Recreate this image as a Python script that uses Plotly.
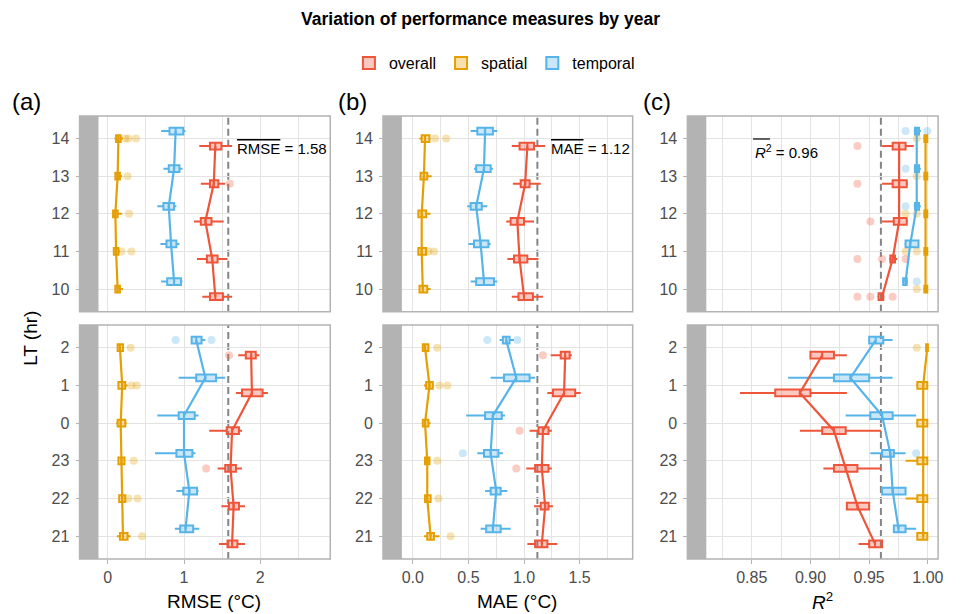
import plotly.graph_objects as go

# ---------------- data ----------------
LT_UPPER = [10, 11, 12, 13, 14]          # bottom -> top, upper facet
LT_LOWER = [21, 22, 23, 0, 1, 2]         # bottom -> top, lower facet
GROUPS = ["overall", "spatial", "temporal"]
METRIC_TITLES = ["RMSE (°C)", "MAE (°C)", "<i>R</i><sup>2</sup>"]
METRIC_MEANS = [1.58, 1.12, 0.96]
MEAN_LABELS = [
    '<span style="text-decoration:overline">RMSE</span> = 1.58',
    '<span style="text-decoration:overline">MAE</span> = 1.12',
    '<i>R</i><sup>2</sup> = 0.96',
]
PANEL_TAGS = ["(a)", "(b)", "(c)"]

# rows: (LT, lower whisker, q1, median, q3, upper whisker)
RMSE_OVERALL = [
    (14, 1.20, 1.34, 1.41, 1.49, 1.63), (13, 1.22, 1.34, 1.39, 1.45, 1.54),
    (12, 1.13, 1.22, 1.28, 1.36, 1.52), (11, 1.17, 1.30, 1.37, 1.44, 1.57),
    (10, 1.24, 1.34, 1.41, 1.51, 1.63),
    (2, 1.71, 1.81, 1.88, 1.94, 1.99), (1, 1.68, 1.76, 1.89, 2.03, 2.10),
    (0, 1.33, 1.56, 1.63, 1.72, 1.76), (23, 1.44, 1.54, 1.61, 1.68, 1.76),
    (22, 1.49, 1.59, 1.65, 1.72, 1.80), (21, 1.46, 1.57, 1.63, 1.70, 1.80),
]
RMSE_SPATIAL = [
    (14, 0.09, 0.11, 0.14, 0.17, 0.20), (13, 0.09, 0.10, 0.13, 0.16, 0.19),
    (12, 0.06, 0.07, 0.10, 0.13, 0.19), (11, 0.07, 0.08, 0.11, 0.14, 0.16),
    (10, 0.09, 0.10, 0.13, 0.16, 0.20),
    (2, 0.12, 0.13, 0.16, 0.20, 0.20), (1, 0.13, 0.14, 0.19, 0.23, 0.26),
    (0, 0.11, 0.13, 0.17, 0.23, 0.25), (23, 0.14, 0.14, 0.18, 0.22, 0.23),
    (22, 0.14, 0.15, 0.19, 0.23, 0.24), (21, 0.12, 0.16, 0.20, 0.26, 0.30),
]
RMSE_TEMPORAL = [
    (14, 0.70, 0.81, 0.89, 0.99, 1.02), (13, 0.73, 0.80, 0.87, 0.94, 0.98),
    (12, 0.65, 0.73, 0.80, 0.87, 0.90), (11, 0.69, 0.77, 0.83, 0.90, 0.94),
    (10, 0.70, 0.78, 0.87, 0.96, 0.98),
    (2, 1.09, 1.10, 1.16, 1.23, 1.28), (1, 0.93, 1.16, 1.28, 1.42, 1.54),
    (0, 0.65, 0.93, 1.00, 1.14, 1.19), (23, 0.62, 0.90, 1.00, 1.11, 1.15),
    (22, 0.90, 0.99, 1.07, 1.17, 1.19), (21, 0.88, 0.95, 1.02, 1.12, 1.20),
]
RMSE_OVERALL_OUT = [(13, 1.60), (2, 1.59), (23, 1.29)]
RMSE_SPATIAL_OUT = [(14, 0.23), (14, 0.27), (14, 0.37), (13, 0.26), (12, 0.28),
                    (11, 0.18), (11, 0.31), (2, 0.30), (1, 0.31), (1, 0.38),
                    (23, 0.34), (22, 0.27), (22, 0.39), (21, 0.45)]
RMSE_TEMPORAL_OUT = [(2, 0.89), (2, 1.36)]

MAE_OVERALL = [
    (14, 0.89, 0.96, 1.03, 1.09, 1.19), (13, 0.90, 0.97, 1.01, 1.05, 1.15),
    (12, 0.84, 0.88, 0.94, 1.00, 1.09), (11, 0.85, 0.91, 0.96, 1.03, 1.13),
    (10, 0.89, 0.95, 1.00, 1.08, 1.17),
    (2, 1.24, 1.33, 1.37, 1.41, 1.43), (1, 1.21, 1.26, 1.36, 1.46, 1.51),
    (0, 1.05, 1.13, 1.17, 1.22, 1.25), (23, 1.02, 1.10, 1.16, 1.22, 1.25),
    (22, 1.09, 1.15, 1.19, 1.22, 1.26), (21, 1.03, 1.10, 1.16, 1.21, 1.30),
]
MAE_SPATIAL = [
    (14, 0.06, 0.08, 0.11, 0.15, 0.16), (13, 0.06, 0.07, 0.10, 0.13, 0.17),
    (12, 0.04, 0.05, 0.08, 0.12, 0.16), (11, 0.05, 0.05, 0.08, 0.12, 0.13),
    (10, 0.06, 0.06, 0.09, 0.13, 0.16),
    (2, 0.08, 0.09, 0.11, 0.14, 0.15), (1, 0.10, 0.12, 0.15, 0.18, 0.19),
    (0, 0.08, 0.09, 0.11, 0.14, 0.16), (23, 0.11, 0.11, 0.13, 0.15, 0.16),
    (22, 0.11, 0.11, 0.13, 0.16, 0.17), (21, 0.10, 0.13, 0.16, 0.19, 0.24),
]
MAE_TEMPORAL = [
    (14, 0.52, 0.58, 0.65, 0.72, 0.76), (13, 0.55, 0.57, 0.64, 0.70, 0.72),
    (12, 0.49, 0.52, 0.57, 0.62, 0.67), (11, 0.50, 0.55, 0.61, 0.68, 0.70),
    (10, 0.52, 0.57, 0.64, 0.73, 0.76),
    (2, 0.78, 0.81, 0.84, 0.87, 0.91), (1, 0.70, 0.82, 0.93, 1.05, 1.10),
    (0, 0.48, 0.65, 0.72, 0.80, 0.83), (23, 0.58, 0.64, 0.70, 0.77, 0.81),
    (22, 0.65, 0.70, 0.75, 0.79, 0.85), (21, 0.61, 0.66, 0.72, 0.79, 0.88),
]
MAE_OVERALL_OUT = [(2, 1.17), (0, 0.96), (23, 0.93)]
MAE_SPATIAL_OUT = [(14, 0.20), (14, 0.30), (11, 0.14), (11, 0.19), (2, 0.22),
                   (1, 0.24), (1, 0.31), (23, 0.22), (22, 0.23), (21, 0.34)]
MAE_TEMPORAL_OUT = [(2, 0.67), (2, 0.94), (23, 0.45)]

R2_OVERALL = [
    (14, 0.961, 0.970, 0.9755, 0.981, 0.988), (13, 0.961, 0.970, 0.9755, 0.982, 0.983),
    (12, 0.961, 0.971, 0.9755, 0.982, 0.983), (11, 0.967, 0.968, 0.970, 0.972, 0.974),
    (10, 0.957, 0.958, 0.961, 0.962, 0.963),
    (2, 0.900, 0.900, 0.910, 0.920, 0.931), (1, 0.840, 0.870, 0.891, 0.900, 0.931),
    (0, 0.891, 0.910, 0.920, 0.930, 0.960), (23, 0.911, 0.920, 0.930, 0.940, 0.960),
    (22, 0.931, 0.931, 0.940, 0.950, 0.950), (21, 0.941, 0.950, 0.955, 0.961, 0.961),
]
R2_SPATIAL = [
    (14, 0.996, 0.997, 0.998, 0.9995, 1.000), (13, 0.996, 0.997, 0.998, 0.9995, 1.000),
    (12, 0.996, 0.997, 0.998, 0.9995, 1.000), (11, 0.996, 0.997, 0.998, 0.9995, 1.000),
    (10, 0.996, 0.997, 0.998, 0.9995, 1.000),
    (2, 0.998, 0.9985, 0.9995, 1.000, 1.000), (1, 0.990, 0.991, 0.996, 0.9995, 1.000),
    (0, 0.990, 0.991, 0.996, 0.9995, 1.000), (23, 0.981, 0.991, 0.996, 0.9995, 1.000),
    (22, 0.981, 0.991, 0.996, 0.9995, 1.000), (21, 0.990, 0.991, 0.996, 0.9995, 1.000),
]
R2_TEMPORAL = [
    (14, 0.988, 0.989, 0.9905, 0.9925, 0.994), (13, 0.988, 0.989, 0.9905, 0.9925, 0.994),
    (12, 0.988, 0.989, 0.9905, 0.9925, 0.994), (11, 0.980, 0.981, 0.985, 0.992, 0.9925),
    (10, 0.978, 0.979, 0.981, 0.982, 0.983),
    (2, 0.950, 0.950, 0.9556, 0.962, 0.970), (1, 0.881, 0.920, 0.934, 0.950, 0.970),
    (0, 0.930, 0.951, 0.961, 0.970, 0.990), (23, 0.951, 0.961, 0.968, 0.971, 0.981),
    (22, 0.961, 0.961, 0.970, 0.981, 0.981), (21, 0.971, 0.971, 0.975, 0.981, 0.990),
]
R2_OVERALL_OUT = [(14, 0.940), (13, 0.940), (12, 0.951), (11, 0.940), (11, 0.961),
                  (11, 0.981), (10, 0.940), (10, 0.951), (10, 0.970)]
R2_SPATIAL_OUT = [(14, 0.9905), (13, 0.9905), (12, 0.981), (12, 0.9905), (11, 0.981),
                  (11, 0.9905), (10, 0.9905), (2, 0.9905)]
R2_TEMPORAL_OUT = [(14, 0.981), (14, 0.9995), (13, 0.981), (12, 0.981), (10, 0.9905),
                   (23, 0.990)]

# ---------------- styling / layout ----------------
COLORS = {"overall": "#EE553A", "spatial": "#E69F00", "temporal": "#56B4E9"}
FILLS = {"overall": "rgba(238,85,58,0.32)", "spatial": "rgba(230,159,0,0.32)",
         "temporal": "rgba(86,180,233,0.32)"}
DODGE = {"overall": -0.2, "spatial": 0.0, "temporal": 0.2}
FONT = "Liberation Sans, Arial, Helvetica, sans-serif"

TABLES = [
    {"overall": (RMSE_OVERALL, RMSE_OVERALL_OUT), "spatial": (RMSE_SPATIAL, RMSE_SPATIAL_OUT),
     "temporal": (RMSE_TEMPORAL, RMSE_TEMPORAL_OUT)},
    {"overall": (MAE_OVERALL, MAE_OVERALL_OUT), "spatial": (MAE_SPATIAL, MAE_SPATIAL_OUT),
     "temporal": (MAE_TEMPORAL, MAE_TEMPORAL_OUT)},
    {"overall": (R2_OVERALL, R2_OVERALL_OUT), "spatial": (R2_SPATIAL, R2_SPATIAL_OUT),
     "temporal": (R2_TEMPORAL, R2_TEMPORAL_OUT)},
]

W, H = 961, 614
PANEL_PX = [(99, 332), (404, 636), (710, 943)]     # panel left/right in px
STRIP_PX = 19
FACET_PX = [(116, 311.7), (325, 559)]              # upper, lower (top, bottom) in px
X_RANGES = [(-0.121, 2.917), (-0.098, 1.977), (0.8113, 1.0087)]
X_DTICK = [1, 0.5, 0.05]
X_MINOR = [0.5, 0.25, 0.025]
X_FMT = ["d", ".1f", ".2f"]
FACET_LTS = [LT_UPPER, LT_LOWER]

GRID = "#E3E3E3"
BORDER = "#B3B3B3"
TICKFONT = dict(family=FONT, size=16, color="#4D4D4D")

fig = go.Figure()
layout = dict(shapes=[], annotations=[])


def px_x(v):
    return v / W


def px_y(v):
    return 1 - v / H


for p in range(3):
    for f in range(2):
        idx = p * 2 + f + 1
        xa = "x" if idx == 1 else f"x{idx}"
        ya = "y" if idx == 1 else f"y{idx}"
        lts = FACET_LTS[f]
        x0p, x1p = PANEL_PX[p]
        top, bot = FACET_PX[f]
        layout[f"xaxis{idx}"] = dict(
            domain=[px_x(x0p), px_x(x1p)], range=list(X_RANGES[p]), anchor=ya,
            dtick=X_DTICK[p], tick0=0, tickformat=X_FMT[p],
            showgrid=True, gridcolor=GRID, gridwidth=1.3, zeroline=False, showline=False,
            minor=dict(dtick=X_MINOR[p], tick0=0, showgrid=True, gridcolor=GRID, gridwidth=1.1),
            ticks="outside" if f == 1 else "", ticklen=4, tickcolor=BORDER, tickwidth=1.2,
            showticklabels=(f == 1), tickfont=TICKFONT,
        )
        layout[f"yaxis{idx}"] = dict(
            domain=[px_y(bot), px_y(top)], range=[-0.6, len(lts) - 0.4],
            anchor="free", position=px_x(x0p - STRIP_PX),
            tickmode="array", tickvals=list(range(len(lts))), ticktext=[str(v) for v in lts],
            showgrid=True, gridcolor=GRID, gridwidth=1.3, zeroline=False, showline=False,
            ticks="outside", ticklen=4, tickcolor=BORDER, tickwidth=1.2,
            ticklabelstandoff=3, tickfont=TICKFONT,
        )
        # strip and panel border
        layout["shapes"].append(dict(type="rect", xref="paper", yref="paper",
                                     x0=px_x(x0p - STRIP_PX), x1=px_x(x0p),
                                     y0=px_y(bot), y1=px_y(top),
                                     fillcolor="#B3B3B3", line=dict(width=0), layer="above"))
        layout["shapes"].append(dict(type="rect", xref="paper", yref="paper",
                                     x0=px_x(x0p - STRIP_PX), x1=px_x(x1p),
                                     y0=px_y(bot), y1=px_y(top),
                                     fillcolor="rgba(0,0,0,0)", line=dict(width=1.5, color=BORDER),
                                     layer="above"))
        # mean line
        layout["shapes"].append(dict(type="line", xref=xa, yref=f"{ya} domain",
                                     x0=METRIC_MEANS[p], x1=METRIC_MEANS[p], y0=0, y1=1,
                                     line=dict(color="#858585", width=2, dash="7px,4px"),
                                     layer="below"))

        for g in GROUPS:
            rows, outs = TABLES[p][g]
            rows = [r for r in rows if r[0] in lts]
            rows.sort(key=lambda r: lts.index(r[0]))
            pos = [lts.index(r[0]) + DODGE[g] for r in rows]
            fig.add_trace(go.Box(
                orientation="h", y=pos,
                lowerfence=[r[1] for r in rows], q1=[r[2] for r in rows],
                median=[r[3] for r in rows], q3=[r[4] for r in rows],
                upperfence=[r[5] for r in rows],
                width=0.18, whiskerwidth=0, boxpoints=False,
                line=dict(color=COLORS[g], width=2), fillcolor=FILLS[g],
                name=g, legendgroup=g, showlegend=(idx == 1),
                xaxis=xa, yaxis=ya, hoverinfo="skip",
            ))
            fig.add_trace(go.Scatter(
                x=[r[3] for r in rows], y=pos, mode="lines",
                line=dict(color=COLORS[g], width=2.2), showlegend=False,
                legendgroup=g, xaxis=xa, yaxis=ya, hoverinfo="skip",
            ))
            o = [t for t in outs if t[0] in lts]
            if o:
                fig.add_trace(go.Scatter(
                    x=[t[1] for t in o], y=[lts.index(t[0]) + DODGE[g] for t in o],
                    mode="markers", marker=dict(color=COLORS[g], size=8, opacity=0.3),
                    showlegend=False, legendgroup=g, xaxis=xa, yaxis=ya, hoverinfo="skip",
                ))

    # x title, panel tag, mean label
    x0p, x1p = PANEL_PX[p]
    layout["annotations"].append(dict(text=METRIC_TITLES[p], xref="paper", yref="paper",
                                      x=px_x((x0p + x1p) / 2), y=px_y(601), showarrow=False,
                                      xanchor="center", yanchor="middle",
                                      font=dict(family=FONT, size=19, color="#000")))
    layout["annotations"].append(dict(text=PANEL_TAGS[p], xref="paper", yref="paper",
                                      x=px_x([10, 338, 644][p]), y=px_y(102), showarrow=False,
                                      xanchor="left", yanchor="middle",
                                      font=dict(family=FONT, size=24, color="#000")))
    layout["annotations"].append(dict(text=MEAN_LABELS[p], xref="paper", yref="paper",
                                      x=px_x([236, 552, 757][p]), y=px_y([148, 148, 151][p]),
                                      showarrow=False, xanchor="left", yanchor="middle",
                                      font=dict(family=FONT, size=15, color="#000")))

# overline above the R^2 symbol of the mean label (c)
layout["shapes"].append(dict(type="line", xref="paper", yref="paper",
                             x0=px_x(757), x1=px_x(774), y0=px_y(139), y1=px_y(139),
                             line=dict(color="#000", width=1.2), layer="above"))

layout["annotations"].append(dict(text="LT (hr)", xref="paper", yref="paper",
                                  x=px_x(30), y=px_y(338), showarrow=False, textangle=-90,
                                  xanchor="center", yanchor="middle",
                                  font=dict(family=FONT, size=19, color="#000")))

fig.update_layout(
    **layout,
    width=W, height=H, margin=dict(l=0, r=0, t=0, b=0),
    paper_bgcolor="white", plot_bgcolor="white",
    boxmode="overlay",
    font=dict(family=FONT, color="#000"),
    title=dict(text="<b>Variation of performance measures by year</b>", x=0.5, xanchor="center",
               y=px_y(19), yanchor="middle", font=dict(family=FONT, size=17.5, color="#000")),
    legend=dict(orientation="h", x=px_x(497), xanchor="center", y=px_y(63), yanchor="middle",
                font=dict(family=FONT, size=16, color="#000"), bgcolor="rgba(0,0,0,0)",
                itemwidth=30, tracegroupgap=0),
)

fig.write_html("out.html", config={"displayModeBar": False},
               post_script="document.body.style.margin='0px';document.body.style.overflow='hidden';")
